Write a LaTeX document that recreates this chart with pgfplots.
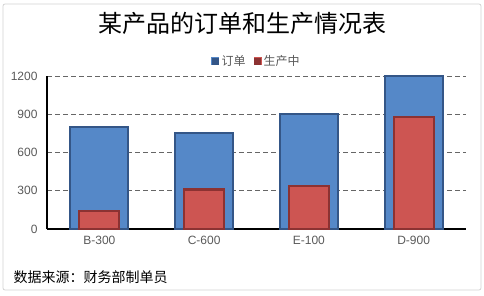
\documentclass[border=0pt]{standalone}
\usepackage{pgfplots}
\pgfplotsset{compat=1.18}
\usepackage{fontspec}
\setmainfont{Liberation Sans}
\newfontfamily\cjk{Noto Sans CJK SC}
\definecolor{barblue}{RGB}{85,136,200}
\definecolor{edgeblue}{RGB}{52,86,135}
\definecolor{barred}{RGB}{205,85,82}
\definecolor{edgered}{RGB}{140,50,50}
\definecolor{ticktext}{RGB}{89,89,89}
\begin{document}
\begin{tikzpicture}
\useasboundingbox (0,0) rectangle (484pt,295pt);
\draw[gray!35, rounded corners=2pt, line width=0.8pt] (3pt,5pt) rectangle (481pt,291pt);
\node[font=\cjk\fontsize{24}{24}\selectfont] at (242pt,272pt) {某产品的订单和生产情况表};
\node[font=\cjk\fontsize{14}{14}\selectfont, anchor=west] at (10pt,18pt) {数据来源：财务部制单员};
\begin{axis}[
  at={(47pt,66pt)}, anchor=south west,
  scale only axis, width=419pt, height=153pt,
  xmin=-0.5, xmax=3.5, ymin=0, ymax=1200,
  ytick={0,300,600,900,1200},
  xtick={0,1,2,3},
  xticklabels={B-300,C-600,E-100,D-900},
  axis lines=left,
  axis line style={-, line width=1.8pt, black},
  major tick length=0pt,
  ymajorgrids,
  grid style={dash pattern=on 5pt off 3pt, gray!80!black, line width=0.6pt},
  tick label style={font=\fontsize{12}{12}\selectfont, text=ticktext},
  yticklabel style={xshift=-6pt},
  xticklabel style={yshift=-4pt},
  /pgf/number format/assume math mode=true,
  /pgf/number format/1000 sep={},
  legend style={at={(0.5,1)}, anchor=center, yshift=15pt, draw=none,
    font=\cjk\fontsize{12}{12}\selectfont, text=ticktext, legend columns=2,
    /tikz/every even column/.append style={column sep=6pt}},
  legend cell align=left,
  clip=false,
  axis on top=false,
]
\addplot[ybar, bar width=58pt, bar shift=0pt, fill=barblue, draw=edgeblue, line width=2.2pt,
  legend image code/.code={\fill[barblue] (0pt,-3pt) rectangle (6pt,3pt); \draw[edgeblue,line width=0.6pt] (0pt,-3pt) rectangle (6pt,3pt);}]
  coordinates {(0,800) (1,750) (2,900) (3,1200)};
\addlegendentry{订单}
\addplot[ybar, bar width=40pt, bar shift=0pt, fill=barred, draw=edgered, line width=2.2pt,
  legend image code/.code={\fill[barred] (0pt,-3pt) rectangle (6pt,3pt); \draw[edgered,line width=0.6pt] (0pt,-3pt) rectangle (6pt,3pt);}]
  coordinates {(0,140) (1,310) (2,340) (3,880)};
\addlegendentry{生产中}
\end{axis}
\end{tikzpicture}
\end{document}
